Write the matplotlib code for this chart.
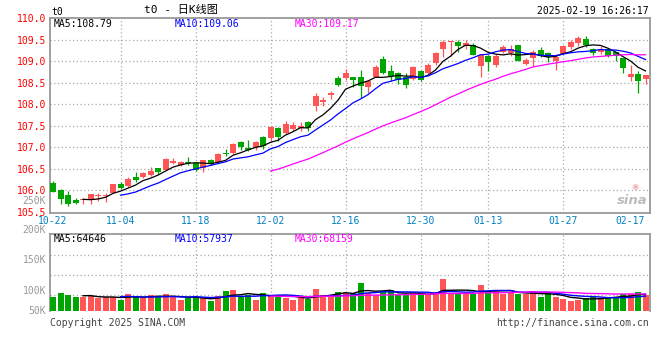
import matplotlib
matplotlib.use("Agg")
import matplotlib.pyplot as plt
import numpy as np
import pandas as pd

plt.rcParams['font.family'] = ['DejaVu Sans Mono', 'Noto Sans CJK SC']

# daily K data, 10-22 .. 02-19
opens = [106.18, 106.01, 105.89, 105.77, 105.77, 105.77, 105.86, 105.87, 105.93, 106.16,
         106.10, 106.32, 106.32, 106.35, 106.51, 106.48, 106.63, 106.59, 106.66, 106.63,
         106.52, 106.71, 106.66, 106.87, 106.86, 107.13, 106.99, 107.00, 107.25, 107.21,
         107.45, 107.34, 107.42, 107.45, 107.58, 107.95, 108.06, 108.21, 108.60, 108.60,
         108.64, 108.64, 108.41, 108.62, 109.06, 108.76, 108.72, 108.64, 108.59, 108.78,
         108.72, 108.95, 109.27, 109.44, 109.45, 109.34, 109.38, 108.88, 109.13, 108.92,
         109.22, 109.18, 109.38, 108.93, 109.07, 109.26, 109.19, 109.00, 109.17, 109.32,
         109.41, 109.52, 109.28, 109.20, 109.28, 109.20, 109.07, 108.62, 108.69, 108.59]
highs = [106.22, 106.04, 105.99, 105.82, 105.82, 105.92, 105.95, 105.95, 106.16, 106.19,
         106.31, 106.43, 106.43, 106.55, 106.52, 106.76, 106.75, 106.69, 106.78, 106.65,
         106.71, 106.74, 106.88, 106.97, 107.10, 107.15, 107.17, 107.15, 107.27, 107.50,
         107.48, 107.62, 107.59, 107.59, 107.62, 108.27, 108.17, 108.31, 108.66, 108.82,
         108.64, 108.79, 108.55, 108.91, 109.11, 108.91, 108.74, 108.72, 108.88, 108.80,
         108.96, 109.20, 109.50, 109.47, 109.48, 109.48, 109.42, 109.15, 109.15, 109.17,
         109.38, 109.38, 109.38, 109.07, 109.26, 109.32, 109.20, 109.17, 109.38, 109.48,
         109.58, 109.59, 109.31, 109.34, 109.28, 109.20, 109.07, 108.92, 108.76, 108.68]
lows = [105.96, 105.69, 105.65, 105.68, 105.68, 105.69, 105.76, 105.74, 105.93, 106.04,
        106.08, 106.20, 106.30, 106.34, 106.39, 106.48, 106.61, 106.57, 106.59, 106.46,
        106.43, 106.59, 106.63, 106.79, 106.84, 106.94, 106.92, 106.94, 106.96, 107.15,
        107.15, 107.32, 107.38, 107.38, 107.37, 107.85, 107.96, 108.12, 108.43, 108.56,
        108.39, 108.14, 108.27, 108.62, 108.70, 108.53, 108.47, 108.37, 108.57, 108.53,
        108.69, 108.92, 109.10, 109.13, 109.20, 109.28, 109.15, 108.62, 108.78, 108.86,
        109.19, 109.13, 109.00, 108.92, 108.88, 109.09, 108.99, 108.80, 109.17, 109.27,
        109.34, 109.32, 109.15, 109.17, 109.09, 109.01, 108.72, 108.55, 108.25, 108.48]
closes = [105.96, 105.81, 105.69, 105.71, 105.80, 105.92, 105.89, 105.89, 106.16, 106.06,
          106.27, 106.24, 106.41, 106.44, 106.42, 106.74, 106.69, 106.67, 106.63, 106.48,
          106.71, 106.61, 106.84, 106.85, 107.07, 107.00, 106.94, 107.13, 107.03, 107.48,
          107.24, 107.54, 107.52, 107.50, 107.45, 108.20, 108.10, 108.27, 108.45, 108.72,
          108.57, 108.43, 108.53, 108.87, 108.72, 108.66, 108.56, 108.45, 108.86, 108.56,
          108.92, 109.18, 109.45, 109.46, 109.34, 109.41, 109.15, 109.15, 108.97, 109.13,
          109.32, 109.28, 109.00, 109.03, 109.22, 109.11, 109.10, 109.09, 109.34, 109.44,
          109.53, 109.38, 109.19, 109.28, 109.11, 109.11, 108.83, 108.69, 108.55, 108.68]
volumes = [55500, 69800, 62100, 55500, 53200, 58200, 49300, 55500, 55500, 42700,
           66000, 55500, 49300, 62100, 53200, 66000, 55500, 42700, 49300, 55500,
           49300, 40000, 58200, 77600, 81500, 58200, 62100, 42700, 69800, 62100,
           62100, 49300, 42700, 49300, 46600, 85400, 62100, 62100, 74900, 71000,
           69800, 109800, 71000, 62100, 77600, 81500, 62100, 62100, 68700, 66000,
           66000, 74900, 124200, 71000, 68700, 66000, 66000, 100900, 77600, 81500,
           66000, 71000, 66000, 66000, 77600, 55500, 68700, 55500, 46600, 38800,
           42700, 49300, 58200, 49300, 53200, 55500, 66000, 66000, 74900, 62100]

date_idx = [0, 9, 19, 29, 39, 49, 58, 68, 77]
date_lbl = ['10-22', '11-04', '11-18', '12-02', '12-16', '12-30', '01-13', '01-27', '02-17']
grid_idx = [9, 19, 29, 39, 49, 58, 68]

price_ticks = [105.5, 106.0, 106.5, 107.0, 107.5, 108.0, 108.5, 109.0, 109.5, 110.0]
vol_lbl = ['250K', '200K', '150K', '100K', '50K']
vol_lbl_px = [200.5, 230.5, 260, 290.5, 311]   # y pixel of each label

ma_periods = [5, 10, 30]
ma_colors = ['black', '#0000ff', '#ff00ff']
price_ma_txt = ['MA5:108.79', 'MA10:109.06', 'MA30:109.17']
vol_ma_txt = ['MA5:64646', 'MA10:57937', 'MA30:68159']

RED = '#ff5555'
GREEN = '#00a600'
GRID = '#aaaaaa'
BORDER = '#999999'

W, H = 660, 360
fig = plt.figure(figsize=(W / 100, H / 100), dpi=100)
ax = fig.add_axes([50 / W, 1 - 213 / H, 600 / W, 195 / H])
axv = fig.add_axes([50 / W, 1 - 311 / H, 600 / W, 77 / H])

x = np.arange(len(closes))
o = np.array(opens)
c = np.array(closes)
up = c >= o
cols = np.where(up, RED, GREEN)

# grids
for a in (ax, axv):
    for gi in grid_idx:
        a.axvline(gi, color=GRID, ls=(0, (1, 2)), lw=0.9, zorder=0)
for p in price_ticks[1:-1]:
    ax.axhline(p, color=GRID, ls=(0, (1, 2)), lw=0.9, zorder=0)

# candles
ax.vlines(x, lows, highs, colors=cols, lw=0.9, zorder=2)
body = np.abs(c - o)
body = np.maximum(body, 0.012)
ax.bar(x, body, bottom=np.minimum(o, c), width=0.8, color=cols, lw=0, zorder=3)

cs = pd.Series(closes)
vs = pd.Series(volumes, dtype=float)
for n, col in zip(ma_periods, ma_colors):
    ax.plot(x, cs.rolling(n).mean(), color=col, lw=0.9, zorder=4)
    axv.plot(x, vs.rolling(n).mean(), color=col, lw=1.0, zorder=4)

ax.set_xlim(-0.4, 79.6)
ax.set_ylim(105.477, 110.0)
ax.set_yticks(price_ticks, [f'{p:.1f}' for p in price_ticks])
ax.tick_params(axis='y', length=0, pad=3, labelsize=7, labelcolor='#ff0000')
ax.set_xticks(date_idx, date_lbl)
ax.tick_params(axis='x', length=0, pad=2.5, labelsize=7, labelcolor='#0080c0')

# volume bars
axv.bar(x, volumes, width=0.8, color=cols, lw=0, zorder=3)
axv.set_xlim(-0.4, 79.6)
vmax = 298800
axv.set_ylim(0, vmax)
for f in (0.21, 0.47, 0.73):
    axv.axhline(f * vmax, color=GRID, ls=(0, (1, 2)), lw=0.9, zorder=0)
axv.set_xticks([])
axv.set_yticks([])

for a in (ax, axv):
    for s in a.spines.values():
        s.set_color(BORDER)
        s.set_linewidth(1.3)
axv.spines['bottom'].set_visible(False)

def ftext(px, py, s, **kw):
    fig.text(px / W, 1 - py / H, s, va='center', **kw)

for lbl, py in zip(vol_lbl, vol_lbl_px):
    ftext(46, py, lbl, ha='right', fontsize=7, color='#999999')

for xs, txt, col in zip([54, 175, 295], price_ma_txt, ma_colors):
    ftext(xs, 24, txt, ha='left', fontsize=7, color=col)
for xs, txt, col in zip([54, 175, 295], vol_ma_txt, ma_colors):
    ftext(xs, 239, txt, ha='left', fontsize=7, color=col)

ftext(51, 12, 't0', ha='left', fontsize=7, color='black')
ftext(181, 10.5, 't0 - 日K线图', ha='center', fontsize=8, color='black')
ftext(649, 11, '2025-02-19 16:26:17', ha='right', fontsize=7, color='black')
ftext(50, 323.5, 'Copyright 2025 SINA.COM', ha='left', fontsize=7, color='#444444')
ftext(649, 323.5, 'http://finance.sina.com.cn', ha='right', fontsize=7, color='#444444')

# sina watermark
ftext(635, 186, '◉', ha='center', fontsize=6, color='#f4b0b0', family='DejaVu Sans')
ftext(648, 201, 'sina', ha='right', fontsize=9.5, color='#bdbdbd',
      family='DejaVu Sans', style='italic', weight='bold')

fig.savefig('out.png', dpi=100)
